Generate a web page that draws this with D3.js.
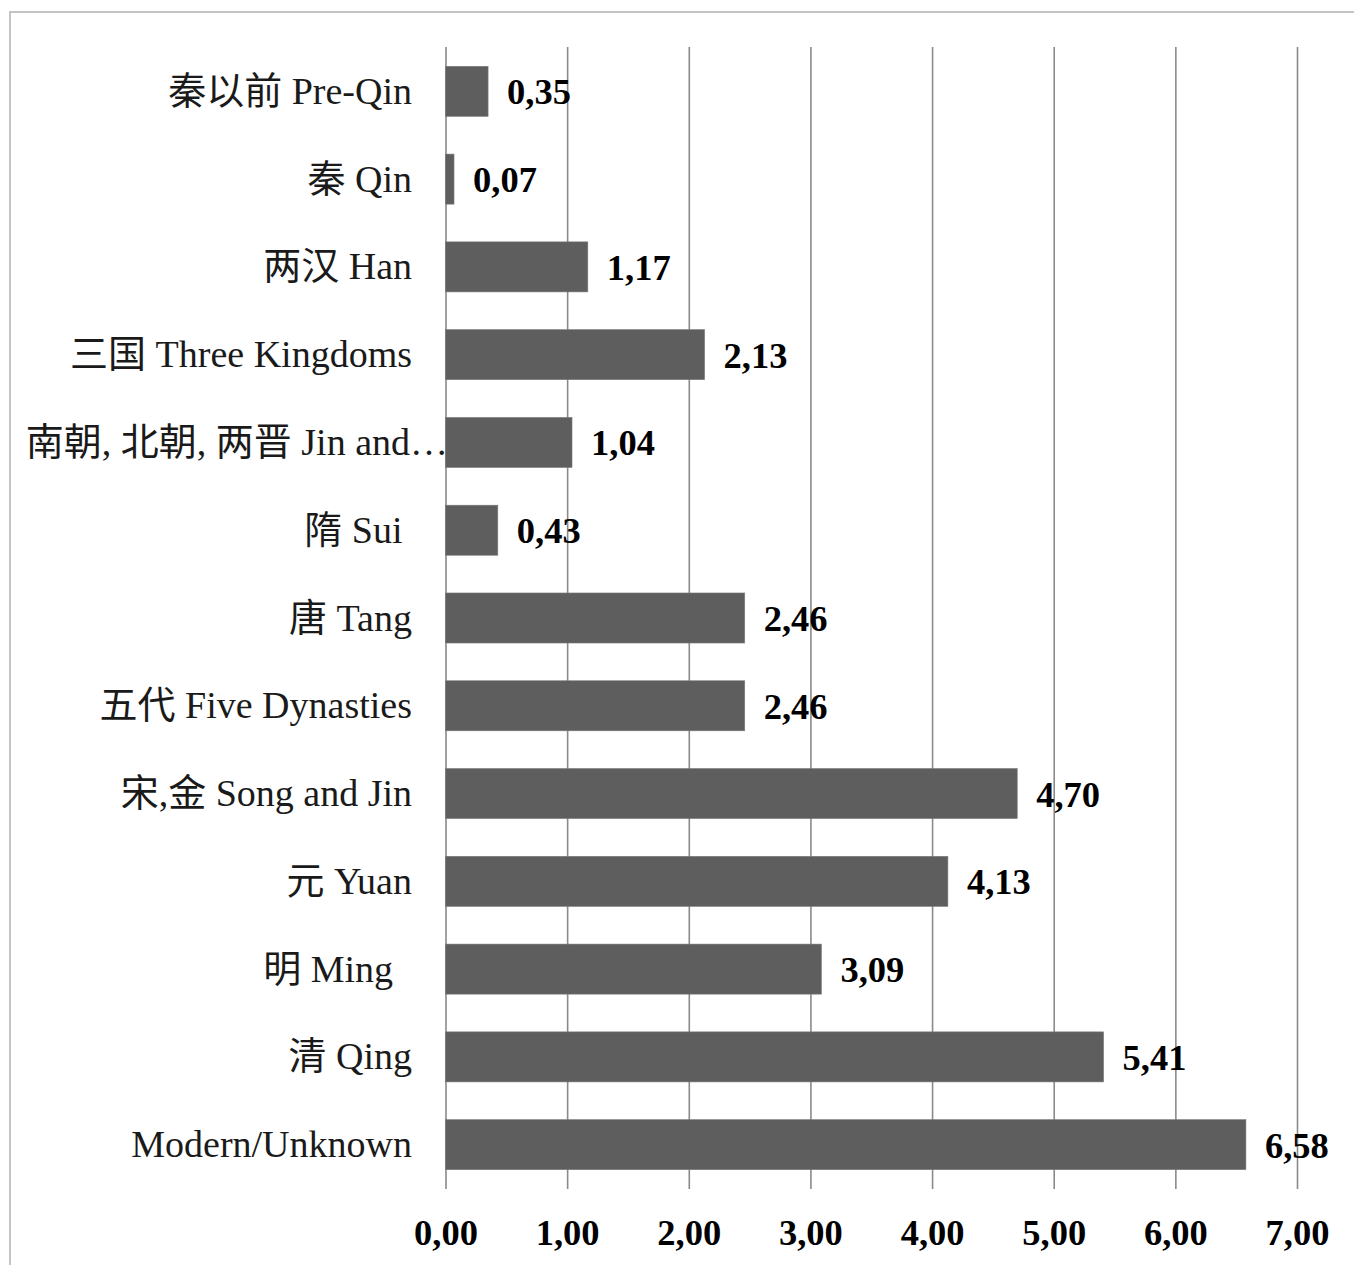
<!DOCTYPE html>
<html>
<head>
<meta charset="utf-8">
<script src="https://cdn.jsdelivr.net/npm/d3@7"></script>
<style>
  html, body { margin: 0; padding: 0; background: #fff; }
  svg { display: block; }
  text { white-space: pre; }
</style>
</head>
<body>
<script>
const categories = ["秦以前 Pre-Qin", "秦 Qin", "两汉 Han", "三国 Three Kingdoms",
  "南朝, 北朝, 两晋 Jin and…", "隋 Sui ", "唐 Tang", "五代 Five Dynasties",
  "宋,金 Song and Jin", "元 Yuan", "明 Ming  ", "清 Qing", "Modern/Unknown"];
const values = [0.35, 0.07, 1.17, 2.13, 1.04, 0.43, 2.46, 2.46, 4.70, 4.13, 3.09, 5.41, 6.58];
const tickValues = [0, 1, 2, 3, 4, 5, 6, 7];

const W = 1354, H = 1265;
const FONT = "'Liberation Serif', 'Times New Roman', 'Noto Sans CJK SC', serif";
const locale = d3.formatLocale({decimal: ",", thousands: ".", grouping: [3], currency: ["", ""]});
const fmt = locale.format(".2f");

const svg = d3.select("body").append("svg").attr("width", W).attr("height", H);

// frame
svg.append("path")
  .attr("d", `M10,${H} L10,12 L${W},12`)
  .attr("fill", "none").attr("stroke", "#c4c4c4").attr("stroke-width", 2);

const plotTop = 47, plotBottom = 1189;
const x = d3.scaleLinear().domain([0, 7]).range([445.5, 1297]);
const y = d3.scaleBand().domain(categories).range([plotTop, plotBottom]).paddingInner(0.43).paddingOuter(0.22);

// gridlines + tick labels
const axis = svg.append("g").attr("transform", `translate(0,${plotTop})`)
  .call(d3.axisBottom(x).tickValues(tickValues).tickSize(plotBottom - plotTop).tickSizeOuter(0).tickFormat(fmt));
axis.select(".domain").remove();
axis.selectAll(".tick line").attr("stroke", "#8a8a8a").attr("stroke-width", 1.6);
axis.selectAll(".tick text")
  .attr("y", plotBottom - plotTop + 56).attr("dy", 0)
  .attr("fill", "#000")
  .style("font-family", FONT).style("font-size", "36.5px").style("font-weight", "bold");

// bars
svg.append("g").selectAll("rect").data(values).join("rect")
  .attr("x", x(0))
  .attr("y", (d, i) => y(categories[i]))
  .attr("width", d => x(d) - x(0))
  .attr("height", y.bandwidth())
  .attr("fill", "#5e5e5e")
  .attr("stroke", "#7a7a7a").attr("stroke-width", 0.6);

// value labels
svg.append("g").selectAll("text").data(values).join("text")
  .attr("x", d => x(d) + 19)
  .attr("y", (d, i) => y(categories[i]) + y.bandwidth() / 2 + 13)
  .attr("fill", "#000")
  .style("font-family", FONT).style("font-size", "36.5px").style("font-weight", "bold")
  .text(d => fmt(d));

// category labels
svg.append("g").selectAll("text").data(categories).join("text")
  .attr("x", (d, i) => i === 4 ? 448 : 412)
  .attr("y", d => y(d) + y.bandwidth() / 2 + 12.5)
  .attr("text-anchor", "end")
  .attr("fill", "#1a1a1a")
  .attr("xml:space", "preserve")
  .style("font-family", FONT).style("font-size", "38px")
  .text(d => d);
</script>
</body>
</html>
